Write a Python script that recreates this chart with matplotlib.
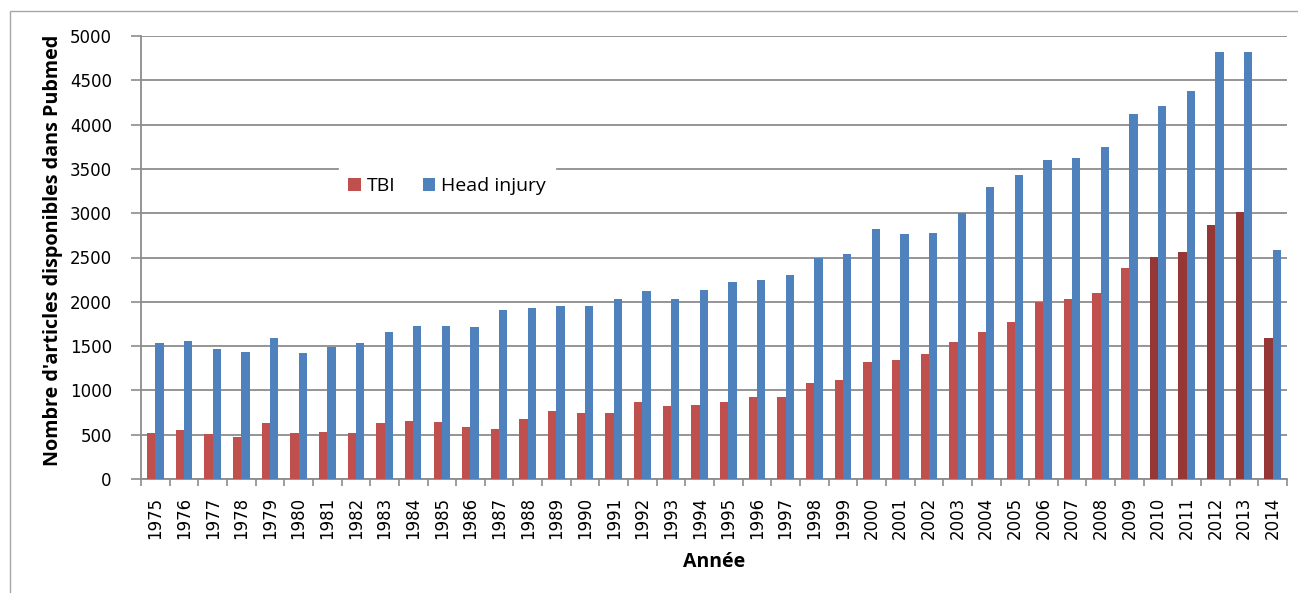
import numpy as np
import matplotlib
matplotlib.use("Agg")
import matplotlib.pyplot as plt
from matplotlib.patches import Rectangle, Patch

years = [str(y) for y in range(1975, 2015)]
tbi = [522, 553, 504, 477, 629, 522, 534, 522, 629, 658, 640, 583,
       564, 674, 764, 748, 748, 872, 824, 839, 872, 929, 929, 1087,
       1117, 1317, 1343, 1407, 1543, 1663, 1772, 1994, 2028, 2096, 2385,
       2505, 2565, 2870, 3017, 1590]
head_injury = [1531, 1557, 1467, 1437, 1588, 1422, 1493, 1531, 1663, 1727, 1727, 1710,
               1907, 1927, 1953, 1953, 2032, 2122, 2032, 2137, 2227, 2246, 2302, 2498,
               2536, 2822, 2762, 2780, 3006, 3299, 3435, 3600, 3619, 3751, 4120,
               4210, 4379, 4823, 4823, 2585]
dark_years = ["2010", "2011", "2012", "2013", "2014"]
yticks = [0, 500, 1000, 1500, 2000, 2500, 3000, 3500, 4000, 4500, 5000]

RED = "#C0504D"
DARK_RED = "#953735"
BLUE = "#4F81BD"
GRID = "#8C8C8C"

W, H = 1298, 593
fig = plt.figure(figsize=(W / 100, H / 100), dpi=100)
fig.patch.set_facecolor("white")

# outer chart border
fig.patches.append(Rectangle((10 / W, -0.1), 1.2, 1 - 11 / H + 0.1,
                             transform=fig.transFigure, fill=False,
                             edgecolor="#A6A6A6", lw=1.0))

ax = fig.add_axes([141 / W, 1 - 479 / H, 1146 / W, 443 / H])
x = np.arange(len(years))
bw = 0.29
red_colors = [DARK_RED if y in dark_years else RED for y in years]
ax.bar(x - bw / 2, tbi, width=bw, color=red_colors, zorder=3)
ax.bar(x + bw / 2, head_injury, width=bw, color=BLUE, zorder=3)

ax.set_xlim(-0.5, len(years) - 0.5)
ax.set_ylim(0, 5000)
ax.set_yticks(yticks)
ax.set_yticklabels([str(v) for v in yticks], fontsize=12, family="DejaVu Sans")
ax.yaxis.grid(True, color=GRID, lw=1.3, zorder=0)
ax.set_axisbelow(True)

ax.set_xticks(x)
ax.set_xticklabels(years, rotation=90, fontsize=12, family="DejaVu Sans")
ax.set_xticks(np.arange(-0.5, len(years), 1.0), minor=True)
ax.tick_params(axis="x", which="major", length=0, pad=13)
ax.tick_params(axis="x", which="minor", length=5, color=GRID, width=1.2)
ax.tick_params(axis="y", length=7, color=GRID, width=1.2, pad=14)

for s in ["top", "right"]:
    ax.spines[s].set_visible(False)
for s in ["left", "bottom"]:
    ax.spines[s].set_color(GRID)
    ax.spines[s].set_linewidth(1.3)

fig.text(53 / W, 1 - 250 / H, "Nombre d'articles disponibles dans Pubmed",
         rotation=90, ha="center", va="center", fontsize=14.2,
         family="Open Sans", fontweight="bold")
fig.text(714 / W, 1 - 562 / H, "Année", ha="center", va="center",
         fontsize=14, family="Open Sans", fontweight="bold")

handles = [Patch(facecolor=RED, label="TBI"), Patch(facecolor=BLUE, label="Head injury")]
leg = ax.legend(handles=handles, loc="center",
                bbox_to_anchor=((447 - 141) / 1146, (479 - 186) / 443),
                ncol=2, frameon=True, fancybox=False, framealpha=1,
                edgecolor="white", facecolor="white",
                prop={"family": "Open Sans", "size": 14},
                handlelength=0.65, handleheight=0.65, handletextpad=0.3,
                columnspacing=1.4, borderpad=0.45, borderaxespad=0)
leg.set_zorder(5)

fig.savefig("out.png", dpi=100, facecolor="white")
